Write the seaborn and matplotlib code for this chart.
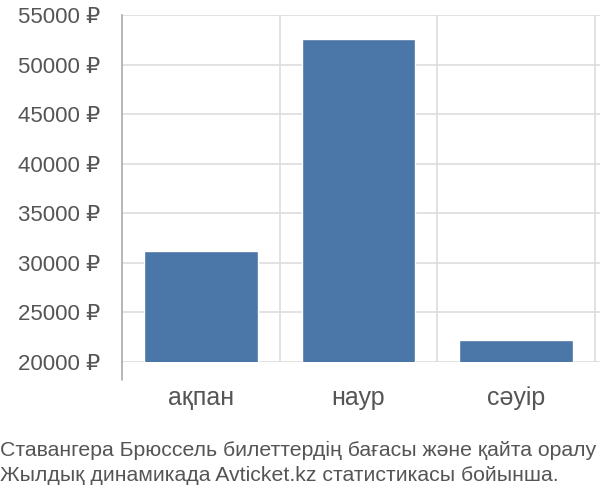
import matplotlib
matplotlib.use("Agg")
import matplotlib.pyplot as plt
import seaborn as sns
import pandas as pd

months = ["ақпан", "наур", "сәуір"]
prices = [31200, 52600, 22200]
yticks = [20000, 25000, 30000, 35000, 40000, 45000, 50000, 55000]
caption_lines = ["Ставангера Брюссель билеттердің бағасы және қайта оралу",
                 "Жылдық динамикада Avticket.kz статистикасы бойынша."]

sns.set_style("white")
plt.rcParams["font.family"] = ["Liberation Sans", "DejaVu Sans"]

text_color = "#555555"
grid_color = "#dddddd"

fig = plt.figure(figsize=(6, 5), dpi=100)
ax = fig.add_axes([122 / 600, 138 / 500, 478 / 600, 347 / 500])

df = pd.DataFrame({"month": months, "price": prices})
sns.barplot(data=df, x="month", y="price", color="#4a76a8", saturation=1,
            width=0.72, ax=ax, zorder=2)

ax.set_ylim(20000, 55000)
ax.set_xlim(-0.5, 2.532)
ax.set_yticks(yticks)
ax.set_yticklabels([f"{v} ₽" for v in yticks])
ax.set_xlabel("")
ax.set_ylabel("")

# horizontal grid + left ticks
for v in yticks:
    ax.axhline(v, color=grid_color, lw=1.2, zorder=0)
ax.tick_params(axis="y", length=15, width=1.2, color=grid_color, pad=1,
               labelsize=16, labelcolor=text_color)

# category separators extending below the axis
ax.set_xticks([-0.5, 0.5, 1.5, 2.5], minor=True)
ax.tick_params(axis="x", which="minor", length=13, width=1.2, color=grid_color)
ax.tick_params(axis="x", which="major", length=0, pad=17,
               labelsize=18, labelcolor=text_color)
for b in [0.5, 1.5, 2.5]:
    ax.axvline(b, color=grid_color, lw=1.2, zorder=0)

for s in ["top", "right", "bottom"]:
    ax.spines[s].set_visible(False)
ax.spines["left"].set_color("#aaaaaa")
ax.spines["left"].set_linewidth(1.2)
ax.plot([-0.5, -0.5], [20000, 18200], color="#aaaaaa", lw=1.2, clip_on=False)

fig.text(0.0, 1 - 456 / 500, caption_lines[0], ha="left", va="baseline",
         fontsize=15.3, color=text_color)
fig.text(0.0, 1 - 481 / 500, caption_lines[1], ha="left", va="baseline",
         fontsize=15.3, color=text_color)

fig.savefig("out.png", dpi=100)
